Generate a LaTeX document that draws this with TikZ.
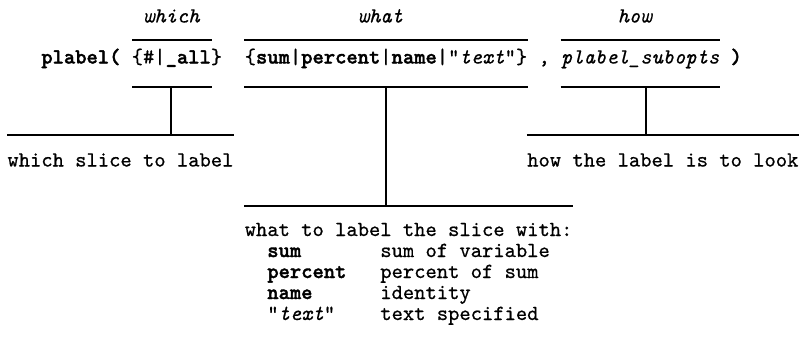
\documentclass[tikz,border=0pt]{standalone}
\usepackage{fontspec}
\setmonofont{lmmono10-regular.otf}[
  BoldFont=lmmonolt10-bold.otf,
  ItalicFont=lmmono10-italic.otf,
  UprightFeatures={FakeBold=0.7},
  ItalicFeatures={FakeBold=0.5},
  BoldFeatures={FakeBold=1.6}]
\usetikzlibrary{positioning,calc}

\begin{document}
\begin{tikzpicture}[
      x=0.4646pt, y=-0.4646pt,
      mono/.style={font=\ttfamily, inner sep=0pt, anchor=base west},
      kw/.style={mono, font=\ttfamily\bfseries},
      role/.style={mono, font=\ttfamily\itshape},
      rule/.style={line width=0.5pt},
      stem/.style={line width=0.7pt}
    ]
      \useasboundingbox (0,0) rectangle (803,338);

      % syntax line
      \node[kw] (open) at (40.9,63.5) {plabel(};
      \node[mono] (argwhich) at (131.3,63.5) {\{\#|\textbf{\_all}\}};
      \node[mono] (argwhat) at (244.3,63.5) {\{\textbf{sum}|\textbf{percent}|\textbf{name}|"\textit{text}"\}};
      \node[mono] (comma) at (538.1,63.5) {,};
      \node[mono] (arghow) at (560.7,63.5) {\textit{plabel\_subopts}};
      \node[kw] (close) at (730.2,63.5) {)};

      % roles above
      \node[role] (which) at (142.6,22.5) {which};
      \node[role] (what) at (357.3,22.5) {what};
      \node[role] (how) at (617.2,22.5) {how};

      % over and under rules
      \draw[rule] ($(argwhich.base west)+(1,-23.5)$) -- ($(argwhich.base east)+(-11,-23.5)$);
      \draw[rule] ($(argwhich.base west)+(1,23.5)$) -- ($(argwhich.base east)+(-11,23.5)$);
      \draw[rule] ($(argwhat.base west)+(0,-23.5)$) -- ($(argwhat.base east)+(0,-23.5)$);
      \draw[rule] ($(argwhat.base west)+(0,23.5)$) -- ($(argwhat.base east)+(0,23.5)$);
      \draw[rule] ($(arghow.base west)+(0,-23.5)$) -- ($(arghow.base east)+(0,-23.5)$);
      \draw[rule] ($(arghow.base west)+(0,23.5)$) -- ($(arghow.base east)+(0,23.5)$);

      % descriptions
      \node[mono] (descwhich) at (7,166.5) {which slice to label};
      \node[mono] (deschow) at (526.8,166.5) {how the label is to look};
      \node[mono] (descwhat) at (244.3,236) {what to label the slice with:};
      \node[kw] (keysum) at (266.9,257) {sum};
      \node[mono] (txtsum) at (379.9,257) {sum of variable};
      \node[kw] (keypct) at (266.9,278) {percent};
      \node[mono] (txtpct) at (379.9,278) {percent of sum};
      \node[kw] (keyname) at (266.9,299) {name};
      \node[mono] (txtname) at (379.9,299) {identity};
      \node[mono] (keytext) at (266.9,320) {"\textit{text}"};
      \node[mono] (txttext) at (379.9,320) {text specified};

      % stems and bars
      \coordinate (whichtop) at (171,87);
      \coordinate (whichfoot) at (171,135);
      \coordinate (whattop) at (386,87);
      \coordinate (whatfoot) at (386,206);
      \coordinate (howtop) at (646,87);
      \coordinate (howfoot) at (646,135);

      \draw[stem] (whichtop) -- (whichfoot);
      \draw[stem] (whattop) -- (whatfoot);
      \draw[stem] (howtop) -- (howfoot);
      \draw[rule] (descwhich.west |- whichfoot) -- (descwhich.east |- whichfoot);
      \draw[rule] (descwhat.west |- whatfoot) -- (descwhat.east |- whatfoot);
      \draw[rule] (deschow.west |- howfoot) -- (deschow.east |- howfoot);
    \end{tikzpicture}
\end{document}
